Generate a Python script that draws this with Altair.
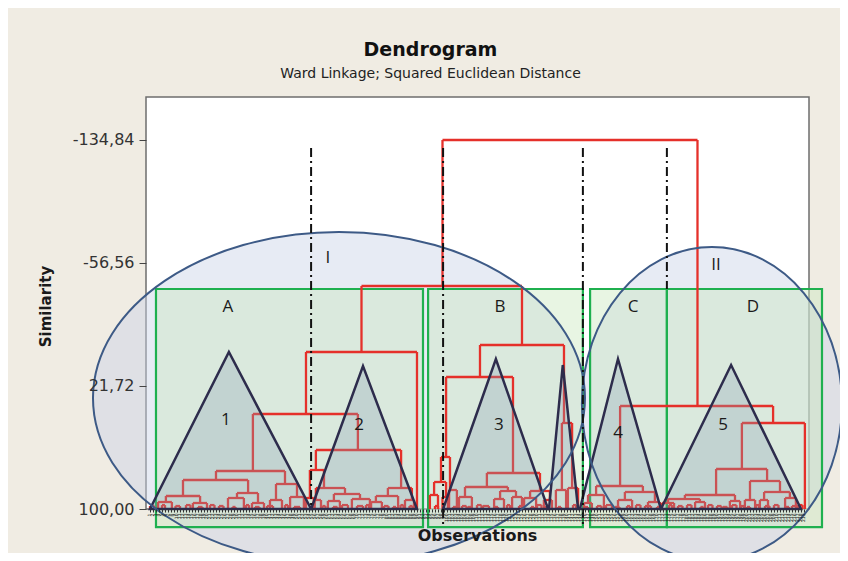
import altair as alt
import pandas as pd

TITLE = "Dendrogram"
SUBTITLE = "Ward Linkage; Squared Euclidean Distance"
X_TITLE = "Observations"
Y_TITLE = "Similarity"
N_OBS = 219
Y_TICKS = [-134.84, -56.56, 21.72, 100.00]
LEAF_LEVEL = 100.0

# ---- dendrogram links (leaf-order position, similarity level) ----
LINK_X1 = [98.5, 71.5, 53.0, 35.3, 23.0, 12.0, 6.3, 30.0, 43.0, 3.7, 15.3, 27.0, 35.0, 41.0, 47.7,
           56.3, 54.3, 56.3, 53.0, 55.9, 62.3, 60.3, 68.3, 80.3, 76.3, 74.7, 86.0,
           111.0, 99.7, 98.0, 95.7, 94.3, 98.5, 100.7, 113.3, 106.0, 104.0, 117.7, 115.7, 121.7, 127.7, 125.7, 132.3, 138.3, 136.3, 140.3,
           157.7, 149.7, 147.0, 145.7, 159.3, 157.0, 167.0, 198.3, 189.7, 179.3, 173.7, 171.7, 182.7, 194.3, 201.0, 199.3, 205.7, 204.3, 212.7]
LINK_X2 = [183.5, 125.0, 90.0, 70.3, 46.0, 33.7, 17.7, 37.0, 50.0, 8.3, 20.0, 32.3, 39.0, 45.0, 52.3,
           84.7, 59.0, 66.0, 55.6, 58.0, 71.0, 64.3, 74.3, 88.3, 83.7, 78.3, 89.0,
           139.0, 122.0, 101.0, 99.7, 97.0, 100.3, 103.3, 131.0, 120.3, 108.3, 123.0, 119.0, 125.0, 134.3, 129.7, 135.0, 141.7, 139.7, 143.7,
           208.7, 165.3, 152.3, 148.3, 169.3, 161.7, 171.0, 219.3, 206.7, 196.0, 184.3, 175.7, 186.0, 197.7, 211.0, 202.7, 214.3, 207.0, 216.3]
LINK_Y = [-134.84, -41.92, 0.08, 39.54, 75.82, 81.54, 91.73, 89.82, 84.09, 95.55, 96.18, 93.0, 96.18, 94.27, 92.36,
          62.45, 75.18, 86.64, 93.0, 94.27, 90.45, 94.91, 93.64, 86.64, 91.73, 95.55, 94.27,
          -4.37, 15.99, 66.91, 82.82, 91.09, 92.36, 87.91, 77.09, 86.0, 92.36, 88.54, 93.64, 92.36, 88.54, 93.0, 94.27, 45.27, 87.91, 86.64,
          34.45, 85.36, 91.09, 96.18, 89.18, 94.27, 95.55, 45.27, 74.54, 91.09, 93.64, 96.18, 95.55, 94.91, 82.18, 94.27, 89.18, 94.27, 93.0]
LINK_Y1 = [-41.92, 0.08, 39.54, 75.82, 81.54, 91.73, 95.55, 93.0, 94.27, 100, 100, 100, 100, 100, 100,
           75.18, 93.0, 94.27, 100, 100, 94.91, 100, 100, 91.73, 95.55, 100, 100,
           15.99, 66.91, 82.82, 91.09, 100, 100, 100, 86.0, 92.36, 100, 93.64, 100, 100, 93.0, 100, 100, 87.91, 100, 100,
           85.36, 91.09, 96.18, 100, 94.27, 100, 100, 74.54, 91.09, 93.64, 96.18, 100, 100, 100, 94.27, 100, 94.27, 100, 100]
LINK_Y2 = [34.45, -4.37, 100, 62.45, 84.09, 89.82, 96.18, 96.18, 92.36, 100, 100, 100, 100, 100, 100,
           86.64, 86.64, 90.45, 100, 100, 93.64, 100, 100, 94.27, 100, 100, 100,
           45.27, 77.09, 87.91, 92.36, 100, 100, 100, 88.54, 88.54, 100, 92.36, 100, 100, 94.27, 100, 100, 86.64, 100, 100,
           45.27, 89.18, 100, 100, 95.55, 100, 100, 100, 82.18, 94.91, 95.55, 100, 100, 100, 89.18, 100, 93.0, 100, 100]

# ---- lowest-level merges near the leaves ----
TINY_X1 = [1, 5, 9.5, 13, 17, 21, 24, 28.5, 33, 36, 40, 46, 49,
           58.5, 62, 65, 70, 73, 79, 82, 84.5, 87.5,
           96, 102, 105, 107, 110, 112, 116, 120, 124, 128, 130, 133, 137, 142,
           146, 150, 153, 156, 160, 163, 166, 170, 174, 177, 180, 184.5, 187, 190, 192, 195, 198, 200, 203, 206, 209, 213, 215, 217.5]
TINY_X2 = [2.5, 6, 11, 14.5, 18.5, 22.5, 25.5, 29.5, 34, 37.5, 42, 47, 51,
           59.5, 63.5, 67, 72, 74, 80.5, 83, 85.5, 88.5,
           97, 103, 106.5, 108, 111.5, 114, 117, 121, 125, 129, 131.5, 134, 138, 143,
           147, 151.5, 155, 157.5, 161, 164.5, 168, 171, 175, 178.5, 181.5, 185.5, 188.5, 191.5, 193.5, 196.5, 199, 201, 204, 207.5, 210.5, 214, 217, 218.5]
TINY_Y = [98.1, 97.5, 98.1, 97.5, 98.7, 97.5, 98.1, 98.7, 97.5, 98.7, 98.1, 97.5, 98.7,
          98.1, 98.7, 97.5, 98.1, 97.5, 98.1, 98.7, 97.5, 98.1,
          98.1, 98.7, 98.1, 98.7, 97.5, 98.1, 98.7, 97.5, 98.1, 98.7, 97.5, 98.1, 98.7, 97.5,
          98.7, 98.1, 97.5, 98.7, 98.1, 97.5, 98.1, 98.7, 97.5, 98.1, 97.5, 98.7, 97.5, 98.1, 98.7, 97.5, 98.1, 98.7, 97.5, 98.1, 97.5, 98.7, 98.1, 97.5]

# ---- annotations ----
GROUP_NAMES = ["I", "II"]
GROUP_X = [64.0, 188.3]
GROUP_Y = [29.4, 33.2]
BOX_NAMES = ["A", "B", "C", "D"]
BOX_X1 = [3.0, 93.7, 147.7, 173.3]
BOX_X2 = [92.0, 145.3, 173.3, 225.0]
BOX_TOP = -40.0
BOX_BOTTOM = 111.5
TRI_NAMES = ["1", "2", "3", "3b", "4", "5"]
TRI_LEFT = [1.0, 54.7, 98.7, 134.0, 144.3, 171.3]
TRI_APEX_X = [27.3, 72.0, 116.3, 138.6, 157.0, 194.7]
TRI_APEX_Y = [0.08, 8.99, 4.54, 8.36, 4.54, 8.36]
TRI_RIGHT = [54.7, 90.0, 133.7, 143.7, 171.3, 218.0]
CUT_X = [54.7, 98.7, 145.3, 173.3]
CUT_TOP = -129.75
CUT_BOTTOM = [100.0, 111.0, 111.0, -40.0]
LABEL_TEXT = ["I", "II", "A", "B", "C", "D", "1", "2", "3", "4", "5"]
LABEL_X = [60.3, 189.7, 27.0, 117.7, 162.0, 202.0, 26.3, 70.7, 117.3, 157.0, 192.0]
LABEL_Y = [-59.7, -55.3, -28.6, -28.6, -28.6, -28.6, 43.4, 46.5, 46.5, 51.6, 46.5]

# ---------------- build tables ----------------
horiz = pd.DataFrame({"x": LINK_X1 + TINY_X1, "x2": LINK_X2 + TINY_X2, "y": LINK_Y + TINY_Y})
vx, vt, vb = [], [], []
for a, b, y, ya, yb in zip(LINK_X1, LINK_X2, LINK_Y, LINK_Y1, LINK_Y2):
    vx += [a, b]; vt += [y, y]; vb += [ya, yb]
for a, b, y in zip(TINY_X1, TINY_X2, TINY_Y):
    vx += [a, b]; vt += [y, y]; vb += [LEAF_LEVEL, LEAF_LEVEL]
vert = pd.DataFrame({"x": vx, "y": vt, "y2": vb})

boxes = pd.DataFrame({"name": BOX_NAMES, "x": BOX_X1, "x2": BOX_X2,
                      "y": [BOX_TOP] * 4, "y2": [BOX_BOTTOM] * 4})
tri_rows = []
for n, l, ax, ay, r in zip(TRI_NAMES, TRI_LEFT, TRI_APEX_X, TRI_APEX_Y, TRI_RIGHT):
    tri_rows += [{"tri": n, "x": l, "y": LEAF_LEVEL, "base": LEAF_LEVEL},
                 {"tri": n, "x": ax, "y": ay, "base": LEAF_LEVEL},
                 {"tri": n, "x": r, "y": LEAF_LEVEL, "base": LEAF_LEVEL}]
tris = pd.DataFrame(tri_rows)
cuts = pd.DataFrame({"x": CUT_X, "y": [CUT_TOP] * 4, "y2": CUT_BOTTOM})
labels = pd.DataFrame({"t": LABEL_TEXT, "x": LABEL_X, "y": LABEL_Y})
ell1 = pd.DataFrame({"x": [GROUP_X[0]], "y": [GROUP_Y[0]]})
ell2 = pd.DataFrame({"x": [GROUP_X[1]], "y": [GROUP_Y[1]]})


def ellipse_path(rx, ry):
    k = 0.5523
    return (f"M {rx},0 C {rx},{k*ry} {k*rx},{ry} 0,{ry} "
            f"C {-k*rx},{ry} {-rx},{k*ry} {-rx},0 "
            f"C {-rx},{-k*ry} {-k*rx},{-ry} 0,{-ry} "
            f"C {k*rx},{-ry} {rx},{-k*ry} {rx},0 Z")


E1_PATH, E1_SIZE = ellipse_path(1, 0.675), (2 * 246) ** 2
E2_PATH, E2_SIZE = ellipse_path(0.828, 1), (2 * 157) ** 2

FONT = "DejaVu Sans"
xs = alt.Scale(domain=[-0.33, 220.67], nice=False, zero=False)
ys = alt.Scale(domain=[-162.2, 100.0], nice=False, zero=False, reverse=True)

X_AXIS = alt.Axis(title=X_TITLE, values=list(range(1, N_OBS + 1)), format="d", zindex=1,
                  tickSize=3, tickColor="#333", labelFontSize=4.5, labelAngle=-90,
                  labelOverlap=False, labelFlush=False, labelPadding=1, labelColor="#222",
                  labelFont=FONT, domain=False, grid=False,
                  titleFont=FONT, titleFontSize=16, titleFontWeight="bold", titleColor="#1a1a1a",
                  titleX=331, titleY=26, titleBaseline="middle", titleAlign="center")
Y_AXIS = alt.Axis(title=Y_TITLE, values=Y_TICKS, format=".2f", zindex=1,
                  labelExpr="replace(replace(datum.label, '.', ','), '\u2212', '-')",
                  tickSize=7, tickColor="#444", labelPadding=5, labelFontSize=16,
                  labelFont=FONT, labelColor="#333", domain=False, grid=False,
                  titleFont=FONT, titleFontSize=15, titleFontWeight="bold", titleColor="#1a1a1a",
                  titleAngle=270, titleX=-101, titleY=209, titleBaseline="middle", titleAlign="center")


def X(f):
    return alt.X(f, type="quantitative", scale=xs, axis=X_AXIS)


def Y(f):
    return alt.Y(f, type="quantitative", scale=ys, axis=Y_AXIS)


RED = "#e5302a"

ell1_fill = alt.Chart(ell1).mark_point(shape=E1_PATH, size=E1_SIZE, filled=True,
                                       color="#c9d3e6", opacity=0.45).encode(x=X("x"), y=Y("y"))
ell2_fill = alt.Chart(ell2).mark_point(shape=E2_PATH, size=E2_SIZE, filled=True,
                                       color="#c9d3e6", opacity=0.45).encode(x=X("x"), y=Y("y"))
box_layer = alt.Chart(boxes).mark_rect(fill="#c8e6bd", fillOpacity=0.42, stroke="#1fb04f",
                                       strokeWidth=2.2).encode(x=X("x"), x2="x2", y=Y("y"), y2="y2")
h_layer = alt.Chart(horiz).mark_rule(color=RED, strokeWidth=2.3).encode(x=X("x"), x2="x2", y=Y("y"))
v_layer = alt.Chart(vert).mark_rule(color=RED, strokeWidth=2.3).encode(x=X("x"), y=Y("y"), y2="y2")
tri_layer = alt.Chart(tris).mark_area(fill="#8aa3b5", fillOpacity=0.3, stroke="#2d2c4c",
                                      strokeWidth=2.5, strokeJoin="miter").encode(
    x=X("x"), y=Y("y"), y2="base", detail="tri")
ell1_line = alt.Chart(ell1).mark_point(shape=E1_PATH, size=E1_SIZE, filled=False,
                                       color="#3d5a86", strokeWidth=2, opacity=1).encode(x=X("x"), y=Y("y"))
ell2_line = alt.Chart(ell2).mark_point(shape=E2_PATH, size=E2_SIZE, filled=False,
                                       color="#3d5a86", strokeWidth=2, opacity=1).encode(x=X("x"), y=Y("y"))
cut_layer = alt.Chart(cuts).mark_rule(color="#111", strokeWidth=2, strokeDash=[9, 4, 2, 4]).encode(
    x=X("x"), y=Y("y"), y2="y2")
text_layer = alt.Chart(labels).mark_text(font="Open Sans", fontSize=17, color="#1a1a1a",
                                         align="center", baseline="middle").encode(
    x=X("x"), y=Y("y"), text="t")

chart = alt.layer(
    ell1_fill, ell2_fill, box_layer, h_layer, v_layer, tri_layer,
    ell1_line, ell2_line, cut_layer, text_layer
).properties(
    width=663, height=412,
    title=alt.Title(TITLE, subtitle=SUBTITLE, font=FONT, fontSize=19, fontWeight="bold",
                    color="#111", subtitleFont=FONT, subtitleFontSize=14, subtitleColor="#222",
                    anchor="middle", frame="group", offset=16, dx=-47, subtitlePadding=7),
    padding={"left": 138, "top": 89, "right": 31, "bottom": 44},
    autosize=alt.AutoSizeParams(type="none"),
    background="#f0ece3",
).configure_view(fill="white", stroke="#6e6e6e", strokeWidth=1.5)

chart.save("out.html", embed_options={"renderer": "svg", "actions": False})
